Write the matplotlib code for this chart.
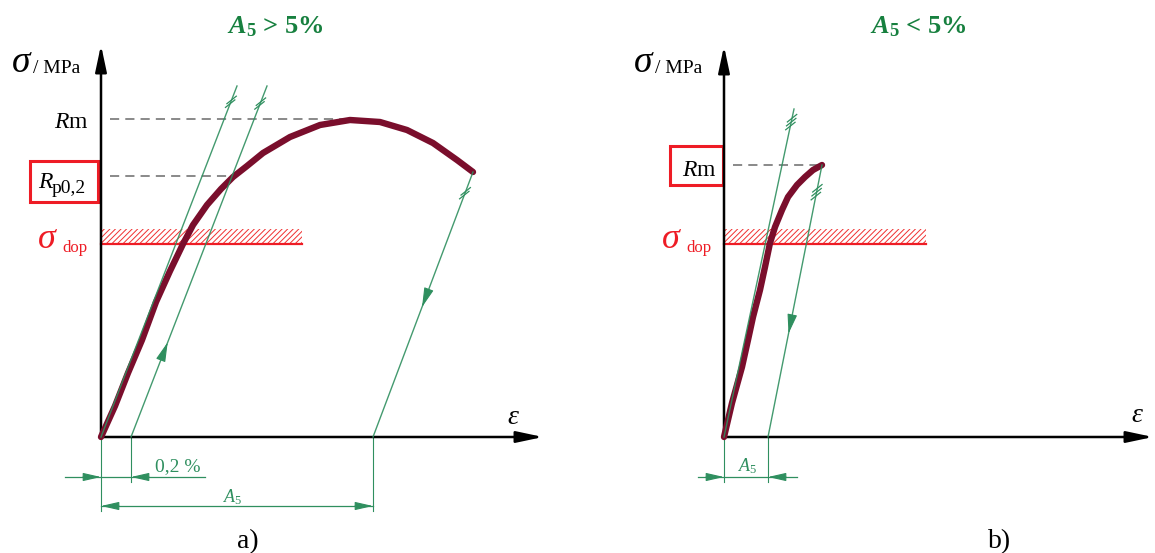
import numpy as np
import matplotlib
matplotlib.use("Agg")
import matplotlib.pyplot as plt
from matplotlib.patches import Rectangle

plt.rcParams['font.family'] = ['Liberation Serif', 'DejaVu Serif']
plt.rcParams['mathtext.fontset'] = 'custom'
plt.rcParams['mathtext.rm'] = 'Liberation Serif'
plt.rcParams['mathtext.it'] = 'Liberation Serif:italic'
plt.rcParams['mathtext.bf'] = 'Liberation Serif:bold'
plt.rcParams['mathtext.bfit'] = 'Liberation Serif:italic:bold'
plt.rcParams['hatch.linewidth'] = 0.7
plt.rcParams['hatch.color'] = '#f03030'

GREEN = '#2f8f5f'
TITLE_GREEN = '#17803f'
RED = '#ee1c25'
CURVE = '#7a0e2c'
GREY = '#6a6a6a'

# schematic units (origin = axis crossing)
# a) ductile, A5 > 5 %
strain_a = [0, 14, 27, 41, 55, 69, 82, 92, 106, 120, 132, 146, 162, 189, 219,
            249, 279, 306, 332, 356, 372]
stress_a = [0, 31, 64, 97, 135, 166, 193, 212, 232, 248, 260, 271, 284, 300, 312,
            317, 315, 307, 294, 277, 265]
rm_a = 318
rp_a = 261
offset_a = 30          # 0,2 %
a5_a = 272
load_a_top = (136, 351)

# b) brittle, A5 < 5 %
strain_b = [0, 8, 18, 24, 29, 36, 41, 46, 51, 58, 64, 73, 81, 89, 98]
stress_b = [0, 34, 70, 97, 120, 147, 170, 194, 210, 227, 240, 252, 260, 267, 272]
rm_b = 272
a5_b = 44
load_b_top = (70, 328)

sigma_dop = 193
band = 15


def axis_arrows(ax, x_end, y_end):
    style = '-|>,head_length=0.8,head_width=0.17'
    for tip in [(x_end, 0), (0, y_end)]:
        ax.annotate('', xy=tip, xytext=(0, 0),
                    arrowprops=dict(arrowstyle=style, color='black', lw=1.8,
                                    mutation_scale=20, shrinkA=0, shrinkB=0))


def head(ax, tip, tail, length=1.1, width=0.25):
    ax.annotate('', xy=tip, xytext=tail,
                arrowprops=dict(arrowstyle=f'-|>,head_length={length},head_width={width}',
                                color=GREEN, lw=0.8, mutation_scale=10,
                                shrinkA=0, shrinkB=0))


def line_arrow(ax, p0, p1, frac, up=True):
    p0, p1 = np.array(p0, float), np.array(p1, float)
    u = (p1 - p0) / np.hypot(*(p1 - p0))
    tip = p0 + frac * (p1 - p0)
    tail = tip - 12 * u if up else tip + 12 * u
    head(ax, tip, tail, length=1.2, width=0.3)


def slashes(ax, p0, p1, frac, n):
    p0, p1 = np.array(p0, float), np.array(p1, float)
    u = (p1 - p0) / np.hypot(*(p1 - p0))
    c = p0 + frac * (p1 - p0)
    d = np.array([1.0, 0.8]) / np.hypot(1.0, 0.8)
    for i in range(n):
        m = c + (i - (n - 1) / 2) * 4 * u
        ax.plot([m[0] - 6 * d[0], m[0] + 6 * d[0]], [m[1] - 6 * d[1], m[1] + 6 * d[1]],
                color=GREEN, lw=0.9, zorder=5)


def dop_band(ax, width):
    ax.add_patch(Rectangle((0, sigma_dop), width, band, facecolor='none',
                           edgecolor='#f03030', hatch='//////', lw=0, zorder=1))
    ax.plot([0, width], [sigma_dop, sigma_dop], color=RED, lw=1.6, zorder=2)


def labels(ax, sx, dopx):
    ax.text(sx, 365, 'σ', fontsize=27, style='italic', ha='center', va='baseline')
    ax.text(sx + 12, 364, '/ MPa', fontsize=14, ha='left', va='baseline')
    ax.text(dopx - 15, 189, 'σ', fontsize=26, style='italic', color=RED,
            ha='center', va='baseline')
    ax.text(dopx, 185, 'dop', fontsize=12, color=RED, ha='left', va='baseline')


fig = plt.figure(figsize=(11.55, 5.53), dpi=100)
ax_a = fig.add_axes([0, 0, 0.5, 1])
ax_a.set_xlim(-101, 476.5)
ax_a.set_ylim(-116, 437)
ax_b = fig.add_axes([0.5, 0, 0.5, 1])
ax_b.set_xlim(-146.5, 431)
ax_b.set_ylim(-116, 437)
for ax in (ax_a, ax_b):
    ax.axis('off')

# ---------------- a) ----------------
ax = ax_a
axis_arrows(ax, 442, 392)
dop_band(ax, 201)
ax.plot([9, 250], [rm_a, rm_a], ls=(0, (6, 4)), color=GREY, lw=1.1)
ax.plot([9, 132], [rp_a, rp_a], ls=(0, (6, 4)), color=GREY, lw=1.1)
ax.plot(strain_a, stress_a, color=CURVE, lw=4.6, solid_capstyle='round',
        solid_joinstyle='round', zorder=3)

l1 = [(0, 0), load_a_top]
l2 = [(offset_a, 0), (offset_a + load_a_top[0], load_a_top[1])]
l3 = [(a5_a, 0), (strain_a[-1], stress_a[-1])]
for p0, p1 in (l1, l2, l3):
    ax.plot([p0[0], p1[0]], [p0[1], p1[1]], color=GREEN, lw=1.0, zorder=4, alpha=0.9)
slashes(ax, *l1, 0.955, 2)
slashes(ax, *l2, 0.95, 2)
slashes(ax, *l3, 0.92, 2)
line_arrow(ax, *l2, 0.27, up=True)
line_arrow(ax, *l3, 0.49, up=False)

# dimensions
for x, y in [(0, -74), (offset_a, -45), (a5_a, -74)]:
    ax.plot([x, x], [0, y], color=GREEN, lw=0.8)
ax.plot([-36, 104], [-40, -40], color=GREEN, lw=0.9)
head(ax, (0, -40), (-18, -40))
head(ax, (offset_a, -40), (offset_a + 18, -40))
ax.plot([0, a5_a], [-69, -69], color=GREEN, lw=0.9)
head(ax, (0, -69), (18, -69))
head(ax, (a5_a, -69), (a5_a - 18, -69))
ax.text(77, -34, '0,2 %', fontsize=14, color=GREEN, ha='center', va='baseline')
ax.text(132, -65, r'$A_5$', fontsize=13, color=GREEN, ha='center', va='baseline')

labels(ax, -80, -39)
ax.text(-12, 309, r'$R$m', fontsize=17, ha='right', va='baseline')
ax.text(-63, 249, 'R', fontsize=17, style='italic', ha='left', va='baseline')
ax.text(-49, 244, 'p0,2', fontsize=14, ha='left', va='baseline')
ax.add_patch(Rectangle((-71, 235), 68, 41, facecolor='none', edgecolor=RED, lw=2.2))
ax.text(412, 19, 'ε', fontsize=20, style='italic', ha='center', va='center')
ax.text(174, 404, r'$\mathbfit{A}_\mathbf{5}$ > 5%', fontsize=19, fontweight='bold',
        color=TITLE_GREEN, ha='center', va='baseline')
ax.text(147, -111, 'a)', fontsize=20, ha='center', va='baseline')

# ---------------- b) ----------------
ax = ax_b
axis_arrows(ax, 429, 391)
dop_band(ax, 202)
ax.plot([9, strain_b[-1]], [rm_b, rm_b], ls=(0, (6, 4)), color=GREY, lw=1.1)
ax.plot(strain_b, stress_b, color=CURVE, lw=4.6, solid_capstyle='round',
        solid_joinstyle='round', zorder=3)

m1 = [(0, 0), load_b_top]
m2 = [(a5_b, 0), (strain_b[-1], stress_b[-1])]
for p0, p1 in (m1, m2):
    ax.plot([p0[0], p1[0]], [p0[1], p1[1]], color=GREEN, lw=1.0, zorder=4, alpha=0.9)
slashes(ax, *m1, 0.96, 3)
slashes(ax, *m2, 0.9, 3)
line_arrow(ax, *m2, 0.38, up=False)

for x in (0, a5_b):
    ax.plot([x, x], [0, -45], color=GREEN, lw=0.8)
ax.plot([-26, 73], [-40, -40], color=GREEN, lw=0.9)
head(ax, (0, -40), (-18, -40))
head(ax, (a5_b, -40), (a5_b + 18, -40))
ax.text(24, -34, r'$A_5$', fontsize=13, color=GREEN, ha='center', va='baseline')

labels(ax, -81, -38)
ax.text(-7, 261, r'$R$m', fontsize=17, ha='right', va='baseline')
ax.add_patch(Rectangle((-54, 252), 53, 39, facecolor='none', edgecolor=RED, lw=2.2))
ax.text(413, 21, 'ε', fontsize=20, style='italic', ha='center', va='center')
ax.text(194, 404, r'$\mathbfit{A}_\mathbf{5}$ < 5%', fontsize=19, fontweight='bold',
        color=TITLE_GREEN, ha='center', va='baseline')
ax.text(276, -111, 'b)', fontsize=20, ha='center', va='baseline')

fig.savefig('out.png', dpi=100)
